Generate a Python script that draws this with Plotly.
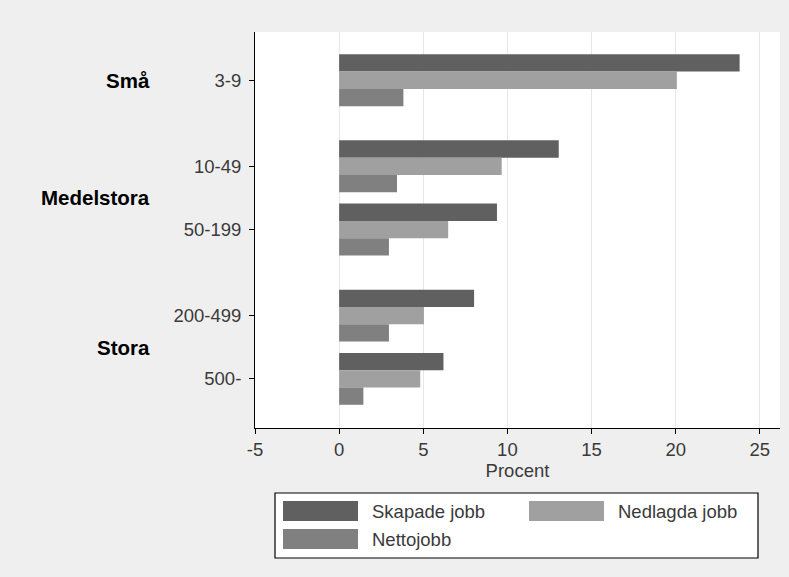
import plotly.graph_objects as go

# data
categories = ['3-9', '10-49', '50-199', '200-499', '500-']
size_groups = ['Små', 'Medelstora', 'Medelstora', 'Stora', 'Stora']
skapade = [23.8, 13.05, 9.38, 8.02, 6.2]
nedlagda = [20.07, 9.66, 6.48, 5.04, 4.82]
netto = [3.82, 3.44, 2.96, 2.96, 1.44]
series_names = ['Skapade jobb', 'Nedlagda jobb', 'Nettojobb']
x_ticks = [-5, 0, 5, 10, 15, 20, 25]
x_ticktext = ['-5', '0', '5', '10', '15', '20', '25']

colors = ['#606060', '#a0a0a0', '#808080']
FONT = 'Liberation Sans, Arial, sans-serif'
TXT = '#3a3a3a'

# y positions: one step per category, a bit more between size groups
GROUP_GAP = 1.36
ypos = []
pos = 0.0
for i, g in enumerate(size_groups):
    if i > 0:
        pos += 1.0 if g == size_groups[i - 1] else GROUP_GAP
    ypos.append(pos)

# plot area in pixels (for the hand drawn legend)
W, H = 789, 577
L, R, T, B = 255, 780, 32, 428


def px(x):
    return (x - L) / (R - L)


def py(y):
    return (B - y) / (B - T)


fig = go.Figure()
for name, vals, c in zip(series_names, [skapade, nedlagda, netto], colors):
    fig.add_trace(go.Bar(y=ypos, x=vals, orientation='h', name=name,
                         marker=dict(color=c, line=dict(width=0)),
                         showlegend=False))

fig.update_layout(
    width=W, height=H,
    margin=dict(l=L, r=W - R, t=T, b=H - B),
    paper_bgcolor='#efefef', plot_bgcolor='white',
    barmode='group', bargap=0.18, bargroupgap=0,
    font=dict(family=FONT, size=18.5, color=TXT),
    xaxis=dict(range=[-5, 26.2], tickvals=x_ticks, ticktext=x_ticktext,
               showgrid=True, gridcolor='#e6e6e6', gridwidth=1,
               zeroline=False, showline=True, linecolor='black', linewidth=1,
               ticks='outside', ticklen=5, tickcolor='black',
               title=dict(text='Procent', standoff=0,
                          font=dict(size=18.5, color=TXT))),
    yaxis=dict(range=[ypos[-1] + 0.777, -0.763], tickvals=ypos,
               ticktext=categories, showgrid=False, zeroline=False,
               showline=True, linecolor='black', linewidth=1,
               ticks='outside', ticklen=5, tickcolor='black',
               ticklabelstandoff=4),
)

# group labels
for g in dict.fromkeys(size_groups):
    ys = [y for y, gg in zip(ypos, size_groups) if gg == g]
    fig.add_annotation(text=f'<b>{g}</b>', xref='paper', yref='y',
                       x=px(152), y=sum(ys) / len(ys), xanchor='right',
                       showarrow=False,
                       font=dict(family=FONT, size=20.5, color='black'))

# legend box
fig.add_shape(type='rect', xref='paper', yref='paper',
              x0=px(275), x1=px(758), y0=py(558), y1=py(493),
              fillcolor='white', line=dict(color='black', width=1.2))
legend_spots = [(283, 501), (529, 501), (283, 529)]
for name, c, (lx, ly) in zip(series_names, colors, legend_spots):
    fig.add_shape(type='rect', xref='paper', yref='paper',
                  x0=px(lx), x1=px(lx + 75), y0=py(ly + 20), y1=py(ly),
                  fillcolor=c, line=dict(width=0))
    fig.add_annotation(text=name, xref='paper', yref='paper',
                       x=px(lx + 87), y=py(ly + 10), xanchor='left',
                       yanchor='middle', showarrow=False,
                       font=dict(family=FONT, size=18.5, color=TXT))

fig.write_html('out.html', config={'displayModeBar': False},
               post_script="document.body.style.margin='0';"
                           "document.body.style.background='#efefef';")
